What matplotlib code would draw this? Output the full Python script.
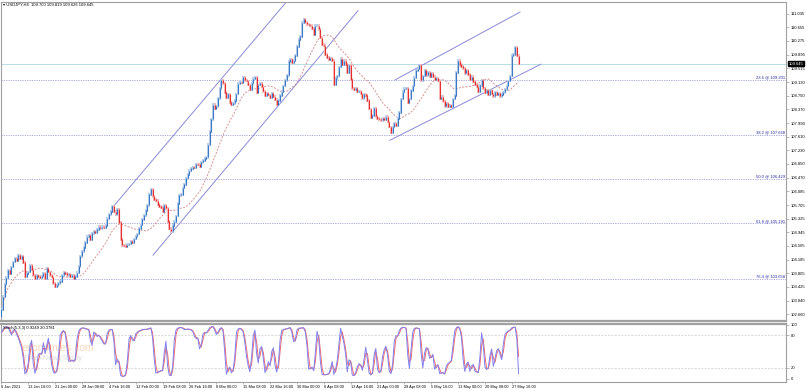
import numpy as np
import pandas as pd
import matplotlib
matplotlib.use("Agg")
import matplotlib.pyplot as plt
import matplotlib.transforms as mtransforms

plt.rcParams['font.family'] = ['Liberation Sans', 'DejaVu Sans']

# USDJPY H4, one value per two H4 bars (closes)
first_open = 102.60
closes = [
    102.80, 103.15, 103.50, 103.68, 103.88, 103.80, 103.98, 104.12, 104.22, 104.16, 104.30, 104.22, 104.27, 104.10, 103.70, 103.80,
    103.84, 104.03, 103.90, 103.75, 103.66, 103.75, 103.71, 103.69, 103.72, 103.80, 103.66, 103.94, 103.84, 103.75, 103.70, 103.53,
    103.43, 103.47, 103.53, 103.58, 103.75, 103.84, 103.80, 103.75, 103.78, 103.71, 103.74, 103.66, 103.71, 103.82, 104.00, 104.28,
    104.42, 104.52, 104.66, 104.82, 104.86, 104.73, 104.92, 104.97, 104.94, 105.02, 105.10, 105.06, 105.10, 105.08, 105.14, 105.32,
    105.45, 105.53, 105.66, 105.52, 105.45, 105.58, 105.22, 104.75, 104.59, 104.58, 104.54, 104.60, 104.62, 104.70, 104.66, 104.76,
    104.84, 104.90, 105.05, 105.15, 105.30, 105.42, 105.55, 105.70, 106.00, 106.15, 105.95, 105.86, 105.82, 105.72, 105.66, 105.64,
    105.52, 105.70, 105.62, 105.25, 105.04, 104.98, 105.14, 105.24, 105.40, 105.75, 105.98, 106.00, 106.18, 106.28, 106.45, 106.56,
    106.66, 106.72, 106.76, 106.74, 106.85, 106.83, 106.78, 106.90, 106.95, 107.00, 107.04, 107.38, 107.75, 108.10, 108.50, 108.38,
    108.46, 108.68, 108.96, 109.18, 109.10, 108.84, 108.70, 108.80, 108.56, 108.50, 108.54, 108.62, 108.80, 109.08, 109.13, 109.12,
    109.26, 109.18, 109.16, 109.05, 108.92, 109.10, 109.22, 109.26, 108.84, 109.05, 109.10, 109.00, 108.88, 108.75, 108.82, 108.77,
    108.69, 108.82, 108.72, 108.64, 108.50, 108.62, 108.76, 108.86, 109.02, 109.18, 109.32, 109.70, 109.77, 109.68, 109.72, 109.87,
    110.12, 110.32, 110.40, 110.78, 110.88, 110.80, 110.74, 110.72, 110.70, 110.62, 110.45, 110.70, 110.70, 110.60, 110.36, 110.17,
    110.14, 109.90, 109.82, 109.75, 109.80, 109.72, 109.05, 109.24, 109.30, 109.55, 109.78, 109.62, 109.72, 109.62, 109.40, 109.60,
    109.20, 108.96, 108.92, 108.96, 108.86, 108.88, 108.80, 108.68, 108.80, 108.76, 108.62, 108.38, 108.14, 108.20, 108.40, 108.18,
    108.12, 108.10, 108.07, 108.12, 108.08, 108.16, 108.02, 107.88, 107.72, 107.88, 107.98, 107.92, 108.12, 108.28, 108.66, 108.86,
    108.94, 108.96, 108.56, 108.66, 108.90, 109.02, 109.25, 109.45, 109.50, 109.60, 109.18, 109.30, 109.45, 109.32, 109.40, 109.28,
    109.38, 109.28, 109.20, 109.24, 109.16, 108.66, 108.72, 108.60, 108.46, 108.54, 108.45, 108.49, 108.44, 108.66, 108.76, 109.40,
    109.72, 109.62, 109.56, 109.52, 109.38, 109.46, 109.34, 109.20, 109.28, 109.15, 109.06, 109.00, 108.87, 109.04, 109.18, 108.96,
    108.84, 108.90, 108.78, 108.90, 108.80, 108.74, 108.84, 108.78, 108.82, 108.74, 108.78, 108.85, 108.93, 109.02, 109.16, 109.30,
    109.86, 109.90, 110.10, 109.86, 109.645,
]
last_price = 109.645

date_labels = ["6 Jan 2021", "13 Jan 16:00", "21 Jan 00:00", "28 Jan 08:00", "4 Feb 16:00",
               "12 Feb 00:00", "19 Feb 08:00", "26 Feb 16:00", "8 Mar 00:00", "15 Mar 08:00",
               "22 Mar 16:00", "30 Mar 00:00", "6 Apr 08:00", "13 Apr 16:00", "21 Apr 00:00",
               "28 Apr 08:00", "5 May 16:00", "13 May 00:00", "20 May 08:00", "27 May 16:00"]
date_ticks = [16 * i for i in range(len(date_labels))]

price_ticks = [111.035, 110.655, 110.275, 109.895, 109.515, 109.130, 108.750, 108.370,
               107.990, 107.610, 107.230, 106.850, 106.470, 106.085, 105.705, 105.325,
               104.945, 104.565, 104.185, 103.805, 103.425, 103.040, 102.660]

fib_ratios = [23.6, 38.2, 50.0, 61.8, 76.4]
fib_prices = [109.201, 107.668, 106.429, 105.191, 103.658]

# trend channel lines: (bar, price) endpoints
channel_x = [[65.9, 169.5], [90.3, 212.4], [234.4, 308.9], [231.4, 321.4]]
channel_y = [[105.62, 111.35], [104.31, 111.12], [109.19, 111.08], [107.51, 109.63]]

stoch_levels = [80, 20]
stoch_ticks = [100, 80, 20, 0]
# Stoch(5,3,3) on H4 bars; each bar here holds two H4 bars, so the windows are halved
stoch_k, stoch_slow, stoch_d = 3, 2, 2

# ---- derived series
close = np.array(closes)
open_ = np.r_[first_open, close[:-1]]
wick = 0.04
high = np.maximum(open_, close) + wick
low = np.minimum(open_, close) - wick
idx = np.arange(len(close))
up = close >= open_

ma = pd.Series(close).rolling(20, min_periods=1).mean()

hh = pd.Series(high).rolling(stoch_k, min_periods=1).max()
ll = pd.Series(low).rolling(stoch_k, min_periods=1).min()
num = (pd.Series(close) - ll).rolling(stoch_slow, min_periods=1).sum()
den = (hh - ll).rolling(stoch_slow, min_periods=1).sum()
k_line = 100 * num / den
d_line = k_line.rolling(stoch_d, min_periods=1).mean()

# ---- figure
W, H = 806, 390
fig = plt.figure(figsize=(W / 100, H / 100), dpi=100)
ax = fig.add_axes([1 / W, 1 - 321 / H, 785 / W, 319 / H])
ax2 = fig.add_axes([1 / W, 1 - 382 / H, 785 / W, 58.5 / H])

xmin, xmax = -0.24, 467.3
grey = '#a0a0a0'
fs = 3.0
fs_date = 2.8

for a in (ax, ax2):
    a.set_xlim(xmin, xmax)
    for s in a.spines.values():
        s.set_color(grey)
        s.set_linewidth(0.8)
    a.yaxis.tick_right()
    a.tick_params(axis='y', length=2, width=0.5, pad=1.5, labelsize=fs, colors='black')
    a.tick_params(axis='y', color=grey)
ax.spines['bottom'].set_linewidth(1.6)
ax2.spines['top'].set_linewidth(1.6)

# main price panel
ax.set_ylim(102.475, 111.361)
ax.set_yticks(price_ticks)
ax.set_yticklabels(['%.3f' % p for p in price_ticks])
ax.set_xticks([])

for lvl, p in zip(fib_ratios, fib_prices):
    ax.axhline(p, color='#a8a8e0', lw=0.7, ls=(0, (1.2, 1.2)), zorder=1)
    ax.text(xmax - 0.8, p + 0.015, '%.1f @ %.3f' % (lvl, p), ha='right', va='bottom',
            fontsize=fs, color='#2a2aa0', zorder=2)

ax.axhline(last_price, color='#b8dde8', lw=0.7, zorder=1)

for xs, ys in zip(channel_x, channel_y):
    ax.plot(xs, ys, color='#8a8ad8', lw=0.7, zorder=2)

ax.vlines(idx, low, high, colors=np.where(up, '#b0cbec', '#f4b6b6'), lw=1.3, zorder=3)
ax.vlines(idx, np.minimum(open_, close) - 0.005, np.maximum(open_, close) + 0.005,
          colors=np.where(up, '#3d79c2', '#e43030'), lw=0.8, zorder=4)

ax.plot(idx, ma, color='#d99090', lw=0.7, ls=(0, (2, 1.5)), zorder=2)

blend = mtransforms.blended_transform_factory(ax.transAxes, ax.transData)
ax.text(1.003, last_price, '%.3f' % last_price, transform=blend, ha='left', va='center',
        fontsize=fs, color='white',
        bbox=dict(boxstyle='square,pad=0.15', fc='black', ec='black'))

fig.text(3 / W, 1 - 4.5 / H, '\u25be USDJPY,H4  109.700 109.819 109.626 109.645',
         fontsize=fs, ha='left', va='center', color='black')

# stochastic panel
ax2.set_ylim(-6.3, 102.2)
ax2.set_yticks(stoch_ticks)
ax2.set_yticklabels([str(t) for t in stoch_ticks])
for lvl in stoch_levels:
    ax2.axhline(lvl, color='#cccccc', lw=0.6, ls=(0, (2, 2)), zorder=1)
ax2.plot(idx, k_line, color='#8080f0', lw=0.7, zorder=3)
ax2.plot(idx, d_line, color='#f06a6a', lw=0.7, zorder=2)
ax2.set_xticks(date_ticks)
ax2.set_xticklabels(date_labels, ha='left')
ax2.tick_params(axis='x', length=1.5, width=0.5, pad=0.5, labelsize=fs_date, color=grey)

ax2.text(0.003, 0.95, 'Stoch(5,3,3) 0.9249 20.3781', transform=ax2.transAxes,
         ha='left', va='top', fontsize=fs, color='black', zorder=5)
ax2.text(0.026, 0.58, 'economies.com', transform=ax2.transAxes, ha='left', va='center',
         fontsize=7.5, color='#f6cfa8', alpha=0.8, zorder=0)
ax2.text(0.028, 0.40, 'ForexNewsToday', transform=ax2.transAxes, ha='left', va='center',
         fontsize=5.5, color='#d6d6d6', alpha=0.8, zorder=0)

fig.savefig('out.png', dpi=100)
